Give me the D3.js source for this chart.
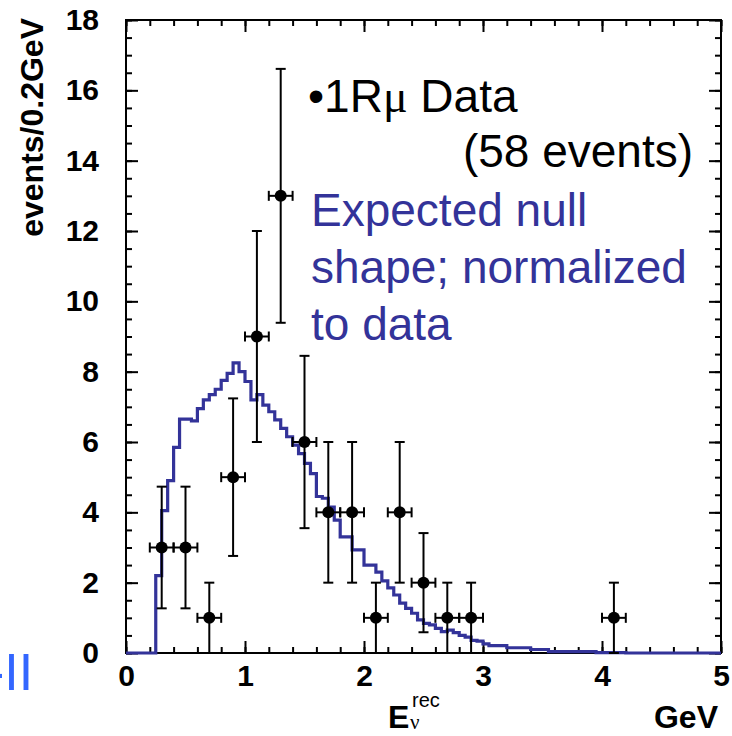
<!DOCTYPE html>
<html>
<head>
<meta charset="utf-8">
<script src="https://cdn.jsdelivr.net/npm/d3@7"></script>
<style>
    body { margin: 0; background: #fff; }
    text { font-family: Arial, "Liberation Sans", sans-serif; }
</style>
</head>
<body>
<script>
// Expected null shape, 0.05 GeV bins from 0 to 5 GeV (normalized to data)
var binWidth = 0.05;
var nullShape = [
    0, 0, 0, 0, 0, 2.2, 4.05, 4.9, 5.85, 6.65,
    6.65, 6.6, 6.95, 7.2, 7.35, 7.5, 7.75, 7.95, 8.25, 8.0,
    7.72, 7.2, 7.35, 7.05, 6.86, 6.63, 6.39, 6.15, 5.91, 5.67,
    5.39, 5.1, 4.45, 4.4, 4.15, 3.78, 3.3, 3.3, 2.93, 2.93,
    2.5, 2.5, 2.3, 2.05, 1.85, 1.65, 1.42, 1.27, 1.13, 0.94,
    0.84, 0.8, 0.7, 0.61, 0.65, 0.58, 0.5, 0.45, 0.36, 0.34,
    0.26, 0.21, 0.21, 0.21, 0.15, 0.15, 0.15, 0.15, 0.1, 0.1,
    0.1, 0.04, 0.04, 0.04, 0.04, 0.04, 0.04, 0.04, 0.04, 0.01,
    0.01, 0.01, 0.01, 0.01, 0, 0, 0, 0, 0, 0,
    0, 0, 0, 0, 0, 0, 0, 0, 0, 0
];

// 1Rmu data points (58 events)
var dataE = [0.3, 0.5, 0.7, 0.9, 1.1, 1.3, 1.5, 1.7, 1.9, 2.1, 2.3, 2.5, 2.7, 2.9, 4.1];
var dataN = [3, 3, 1, 5, 9, 13, 6, 4, 4, 1, 4, 2, 1, 1, 1];
var dataErr = [1.73, 1.73, 1, 2.24, 3, 3.61, 2.45, 2, 2, 1, 2, 1.41, 1, 1, 1];
var dataXErr = 0.1;

// Axis ticks
var xMajor = [0, 1, 2, 3, 4, 5];
var yMajor = [0, 2, 4, 6, 8, 10, 12, 14, 16, 18];

var blue = "#333399";

var svg = d3.select("body").append("svg").attr("width", 732).attr("height", 736);

// Plot frame
var frame = {left: 126, top: 20, right: 721, bottom: 653};

var xScale = d3.scaleLinear().domain([0, 5]).range([frame.left, frame.right]);
var yScale = d3.scaleLinear().domain([0, 18]).range([frame.bottom, frame.top]);

var xMinor = d3.range(0, 5.001, 0.2);
var yMinor = d3.range(0, 18.001, 0.5);

// Draw axes with inward ticks on all four sides
function drawAxis(axis, transform, cls) {
    var g = svg.append("g")
        .attr("class", cls)
        .attr("transform", transform)
        .call(axis);
    g.select(".domain").remove();
    g.selectAll("line").attr("stroke", "#000").attr("stroke-width", 2);
    return g;
}

var bottomMajor = drawAxis(d3.axisBottom(xScale).tickValues(xMajor).tickSize(-12).tickPadding(12)
    .tickFormat(d3.format("d")), "translate(0," + frame.bottom + ")", "x axis");
bottomMajor.selectAll("text")
    .attr("font-size", 30).attr("font-weight", "bold").attr("fill", "#000");
drawAxis(d3.axisBottom(xScale).tickValues(xMinor).tickSize(-6).tickFormat(""),
    "translate(0," + frame.bottom + ")", "x minor");
drawAxis(d3.axisTop(xScale).tickValues(xMajor).tickSize(-12).tickFormat(""),
    "translate(0," + frame.top + ")", "x top");
drawAxis(d3.axisTop(xScale).tickValues(xMinor).tickSize(-6).tickFormat(""),
    "translate(0," + frame.top + ")", "x top minor");

var leftMajor = drawAxis(d3.axisLeft(yScale).tickValues(yMajor).tickSize(-12).tickPadding(27)
    .tickFormat(d3.format("d")), "translate(" + frame.left + ",0)", "y axis");
leftMajor.selectAll("text")
    .attr("font-size", 30).attr("font-weight", "bold").attr("fill", "#000");
drawAxis(d3.axisLeft(yScale).tickValues(yMinor).tickSize(-6).tickFormat(""),
    "translate(" + frame.left + ",0)", "y minor");
drawAxis(d3.axisRight(yScale).tickValues(yMajor).tickSize(-12).tickFormat(""),
    "translate(" + frame.right + ",0)", "y right");
drawAxis(d3.axisRight(yScale).tickValues(yMinor).tickSize(-6).tickFormat(""),
    "translate(" + frame.right + ",0)", "y right minor");

svg.append("rect")
    .attr("x", frame.left)
    .attr("y", frame.top)
    .attr("width", frame.right - frame.left)
    .attr("height", frame.bottom - frame.top)
    .attr("fill", "none")
    .attr("stroke", "#000")
    .attr("stroke-width", 2);

// Expected null histogram as a step line
var histPoints = nullShape.map(function(v, i) { return [i * binWidth, v]; });
histPoints.push([nullShape.length * binWidth, nullShape[nullShape.length - 1]]);

var stepLine = d3.line()
    .x(function(d) { return xScale(d[0]); })
    .y(function(d) { return yScale(d[1]); })
    .curve(d3.curveStepAfter);

svg.append("path")
    .datum(histPoints)
    .attr("d", stepLine)
    .attr("fill", "none")
    .attr("stroke", blue)
    .attr("stroke-width", 3.2);

// Data points with error bars
var points = dataE.map(function(e, i) { return {e: e, n: dataN[i], err: dataErr[i]}; });
var cap = 5;

var pg = svg.selectAll(".point")
    .data(points)
    .enter()
    .append("g")
    .attr("class", "point")
    .attr("stroke", "#000")
    .attr("stroke-width", 2);

pg.append("line")
    .attr("x1", function(d) { return xScale(d.e); })
    .attr("x2", function(d) { return xScale(d.e); })
    .attr("y1", function(d) { return yScale(d.n + d.err); })
    .attr("y2", function(d) { return yScale(d.n - d.err); });
pg.append("line")
    .attr("x1", function(d) { return xScale(d.e) - cap; })
    .attr("x2", function(d) { return xScale(d.e) + cap; })
    .attr("y1", function(d) { return yScale(d.n + d.err); })
    .attr("y2", function(d) { return yScale(d.n + d.err); });
pg.append("line")
    .attr("x1", function(d) { return xScale(d.e) - cap; })
    .attr("x2", function(d) { return xScale(d.e) + cap; })
    .attr("y1", function(d) { return yScale(d.n - d.err); })
    .attr("y2", function(d) { return yScale(d.n - d.err); });
pg.append("line")
    .attr("x1", function(d) { return xScale(d.e - dataXErr); })
    .attr("x2", function(d) { return xScale(d.e + dataXErr); })
    .attr("y1", function(d) { return yScale(d.n); })
    .attr("y2", function(d) { return yScale(d.n); });
pg.append("line")
    .attr("x1", function(d) { return xScale(d.e - dataXErr); })
    .attr("x2", function(d) { return xScale(d.e - dataXErr); })
    .attr("y1", function(d) { return yScale(d.n) - cap; })
    .attr("y2", function(d) { return yScale(d.n) + cap; });
pg.append("line")
    .attr("x1", function(d) { return xScale(d.e + dataXErr); })
    .attr("x2", function(d) { return xScale(d.e + dataXErr); })
    .attr("y1", function(d) { return yScale(d.n) - cap; })
    .attr("y2", function(d) { return yScale(d.n) + cap; });
pg.append("circle")
    .attr("cx", function(d) { return xScale(d.e); })
    .attr("cy", function(d) { return yScale(d.n); })
    .attr("r", 6)
    .attr("stroke", "none")
    .attr("fill", "#000");

// Axis titles
svg.append("text")
    .attr("transform", "translate(43,18) rotate(-90)")
    .attr("text-anchor", "end")
    .attr("font-size", 32)
    .attr("font-weight", "bold")
    .text("events/0.2GeV");

svg.append("text")
    .attr("x", 388).attr("y", 728)
    .attr("font-size", 32).attr("font-weight", "bold")
    .text("E");
svg.append("text")
    .attr("x", 410).attr("y", 729)
    .attr("font-size", 21)
    .style("font-family", "'Liberation Serif', serif")
    .text("ν");
svg.append("text")
    .attr("x", 412).attr("y", 707)
    .attr("font-size", 20)
    .text("rec");
svg.append("text")
    .attr("x", 718).attr("y", 728)
    .attr("text-anchor", "end")
    .attr("font-size", 32).attr("font-weight", "bold")
    .text("GeV");

// Legend text
var legend = svg.append("text")
    .attr("x", 308).attr("y", 112)
    .attr("font-size", 46);
legend.append("tspan").text("•1R");
legend.append("tspan").style("font-family", "'Liberation Serif', serif").text("μ");
legend.append("tspan").text(" Data");

svg.append("text")
    .attr("x", 693).attr("y", 167)
    .attr("text-anchor", "end")
    .attr("font-size", 46)
    .text("(58 events)");

var blueLines = ["Expected null", "shape; normalized", "to data"];
svg.selectAll(".bluetext")
    .data(blueLines)
    .enter()
    .append("text")
    .attr("class", "bluetext")
    .attr("x", 311)
    .attr("y", function(d, i) { return 226 + i * 57; })
    .attr("font-size", 46)
    .attr("fill", blue)
    .text(function(d) { return d; });

// Slide footer fragment (cut at the left edge, as in the slide)
svg.append("text")
    .attr("x", -13).attr("y", 690)
    .attr("font-size", 52)
    .attr("fill", "#3366ff")
    .text("-II");
</script>
</body>
</html>
